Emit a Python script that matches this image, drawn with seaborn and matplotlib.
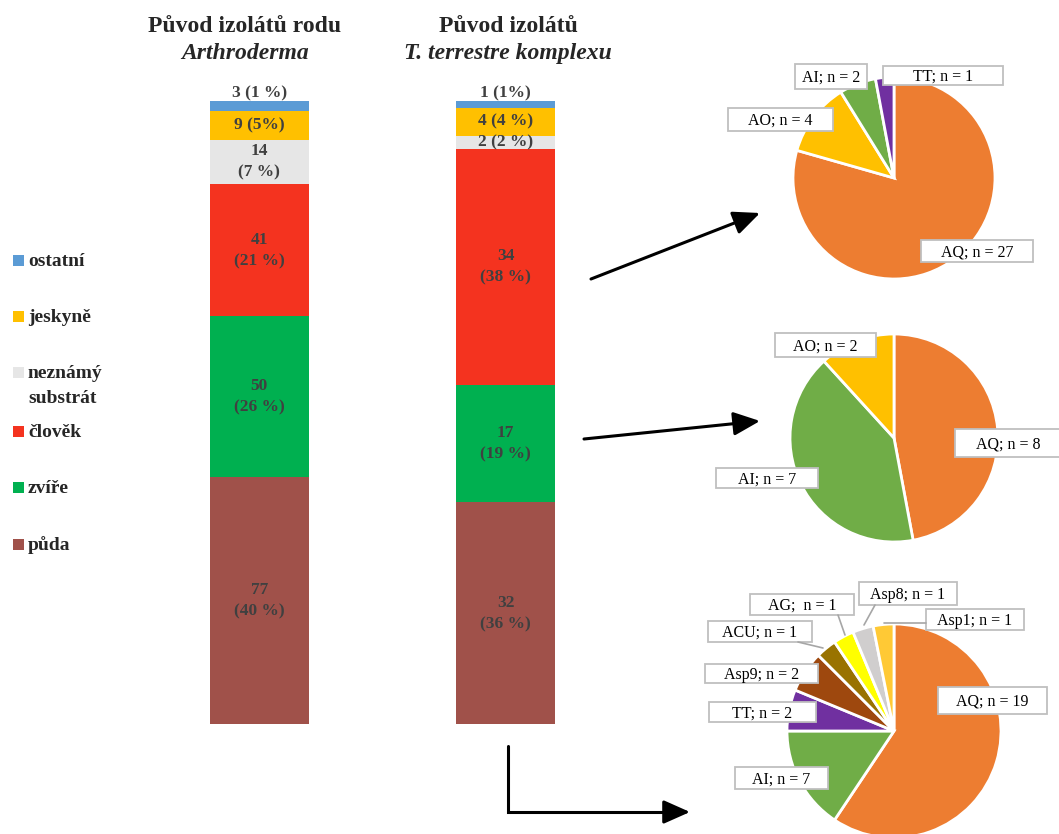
import seaborn as sns
import matplotlib.pyplot as plt
import matplotlib.patches as mpatches
import pandas as pd
import numpy as np

# stack order: bottom -> top
categories = ["půda", "zvíře", "člověk", "neznámý substrát", "jeskyně", "ostatní"]
cat_colors = ["#A0514A", "#00B050", "#F4331F", "#E6E6E6", "#FFC000", "#5B9BD5"]
legend_labels = ["ostatní", "jeskyně", "neznámý\nsubstrát", "člověk", "zvíře", "půda"]
legend_colors = ["#5B9BD5", "#FFC000", "#E6E6E6", "#F4331F", "#00B050", "#A0514A"]

groups = ["Arthroderma", "T. terrestre komplex"]
arthroderma_n = [77, 50, 41, 14, 9, 3]
terrestre_n = [32, 17, 34, 2, 4, 1]
arthroderma_lbl = ["77\n(40 %)", "50\n(26 %)", "41\n(21 %)", "14\n(7 %)", "9 (5%)", "3 (1 %)"]
terrestre_lbl = ["32\n(36 %)", "17\n(19 %)", "34\n(38 %)", "2 (2 %)", "4 (4 %)", "1 (1%)"]

# pies (clockwise from top)
species_colors = {"AQ": "#ED7D31", "AO": "#FFC000", "AI": "#70AD47", "TT": "#7030A0",
                  "Asp9": "#9E480E", "ACU": "#997300", "AG": "#FFFF00",
                  "Asp8": "#D0CECE", "Asp1": "#FFC935"}
pie1_names = ["AQ", "AO", "AI", "TT"]
pie1_n = [27, 4, 2, 1]
pie1_labels = ["AQ; n = 27", "AO; n = 4", "AI; n = 2", "TT; n = 1"]
pie2_names = ["AQ", "AI", "AO"]
pie2_n = [8, 7, 2]
pie2_labels = ["AQ; n = 8", "AI; n = 7", "AO; n = 2"]
pie3_names = ["AQ", "AI", "TT", "Asp9", "ACU", "AG", "Asp8", "Asp1"]
pie3_n = [19, 5, 2, 2, 1, 1, 1, 1]
pie3_labels = ["AQ; n = 19", "AI; n = 7", "TT; n = 2", "Asp9; n = 2", "ACU; n = 1",
               "AG;  n = 1", "Asp8; n = 1", "Asp1; n = 1"]

sns.set_theme(style="white")
plt.rcParams['font.family'] = ['Liberation Serif', 'DejaVu Serif']

W, H = 1059, 834
fig = plt.figure(figsize=(W / 100, H / 100), dpi=100)


def fig_rect(x0, y0, x1, y1):
    return [x0 / W, 1 - y1 / H, (x1 - x0) / W, (y1 - y0) / H]


# stacked bars
bar_ax = fig.add_axes(fig_rect(136, 101, 629, 724))
df = pd.DataFrame({"skupina": np.repeat(groups, len(categories)),
                   "kategorie": categories * 2,
                   "n": arthroderma_n + terrestre_n,
                   "popis": arthroderma_lbl + terrestre_lbl})
df["pct"] = df["n"] / df.groupby("skupina")["n"].transform("sum") * 100
df["top"] = df.groupby("skupina")["pct"].cumsum()
df["mid"] = df["top"] - df["pct"] / 2

for cat, col in reversed(list(zip(categories, cat_colors))):
    sub = df[df["kategorie"] == cat]
    sns.barplot(data=sub, x="skupina", y="top", order=groups, color=col,
                saturation=1, width=0.4, linewidth=0, errorbar=None, ax=bar_ax)

for _, row in df.iterrows():
    xi = groups.index(row["skupina"])
    y = row["top"] + 1.2 if row["kategorie"] == "ostatní" else row["mid"]
    bar_ax.text(xi, y, row["popis"], ha="center", va="center", fontsize=12.5,
                fontweight="bold", color="#404040", linespacing=1.45)
bar_ax.set_xlim(-0.5, 1.5)
bar_ax.set_ylim(0, 100)
bar_ax.axis("off")


# pies
def draw_pie(cx, cy, r, names, values):
    k = 1.03
    ax = fig.add_axes(fig_rect(cx - r * k, cy - r * k, cx + r * k, cy + r * k))
    ax.pie(values, colors=[species_colors[n] for n in names], startangle=90,
           counterclock=False, wedgeprops=dict(edgecolor="white", linewidth=2))
    ax.set_xlim(-k, k)
    ax.set_ylim(-k, k)
    ax.set_aspect("equal")
    ax.axis("off")


draw_pie(894, 178, 101, pie1_names, pie1_n)
draw_pie(894, 438, 104, pie2_names, pie2_n)
draw_pie(894, 731, 107, pie3_names, pie3_n)

# overlay in pixel coordinates
ov = fig.add_axes([0, 0, 1, 1])
ov.set_xlim(0, W)
ov.set_ylim(H, 0)
ov.axis("off")
ov.patch.set_alpha(0)
ov.set_zorder(10)

# titles
ov.text(245, 32, "Původ izolátů rodu", ha="center", va="baseline", fontsize=17, fontweight="bold")
ov.text(245, 59, "Arthroderma", ha="center", va="baseline", fontsize=17, fontweight="bold", style="italic")
ov.text(508, 32, "Původ izolátů", ha="center", va="baseline", fontsize=17, fontweight="bold")
ov.text(508, 59, "T. terrestre komplexu", ha="center", va="baseline", fontsize=17, fontweight="bold", style="italic")

# legend
legend_y = [266, 322, 378, 437, 493, 550]
for lab, col, y in zip(legend_labels, legend_colors, legend_y):
    ov.add_patch(mpatches.Rectangle((13, y - 11), 11, 11, facecolor=col, edgecolor="none"))
    for k, line in enumerate(lab.split("\n")):
        ov.text(28, y + k * 24.5, line, ha="left", va="baseline", fontsize=14, fontweight="bold")

# pie label boxes
pie_boxes = [
    [(921, 240, 1033, 262), (728, 108, 833, 131), (795, 64, 867, 89), (883, 66, 1003, 85)],
    [(955, 429, 1062, 457), (716, 468, 818, 488), (775, 333, 876, 357)],
    [(938, 687, 1047, 714), (735, 767, 828, 789), (709, 702, 816, 722), (705, 664, 818, 683),
     (708, 621, 812, 642), (750, 594, 854, 615), (859, 582, 957, 605), (926, 609, 1024, 630)],
]
leaders = [((838, 615), (845, 635)), ((875, 605), (864, 625)),
           ((926, 623), (884, 623)), ((798, 642), (823, 648))]
for x0, y0 in leaders:
    ov.plot([x0[0], y0[0]], [x0[1], y0[1]], color="#A6A6A6", lw=1.2)

for labels, boxes in zip([pie1_labels, pie2_labels, pie3_labels], pie_boxes):
    for lab, (x0, y0, x1, y1) in zip(labels, boxes):
        ov.add_patch(mpatches.Rectangle((x0, y0), x1 - x0, y1 - y0, facecolor="white",
                                        edgecolor="#BFBFBF", lw=1.3))
        ov.text((x0 + x1) / 2, (y0 + y1) / 2 + 5.5, lab, ha="center", va="baseline",
                fontsize=11.5, color="black")

# arrows
arrow_kw = dict(arrowstyle="-|>,head_length=0.9,head_width=0.4", color="black", lw=2.2,
                mutation_scale=18, shrinkA=0, shrinkB=0)
for start, end in [((591, 279), (760, 213)), ((584, 439), (760, 421))]:
    ov.annotate("", xy=end, xytext=start, arrowprops=arrow_kw)
ov.plot([508, 508, 675], [746, 812, 812], color="black", lw=2.2, solid_joinstyle="miter")
ov.annotate("", xy=(690, 812), xytext=(670, 812), arrowprops=arrow_kw)

fig.savefig("out.png", dpi=100)
